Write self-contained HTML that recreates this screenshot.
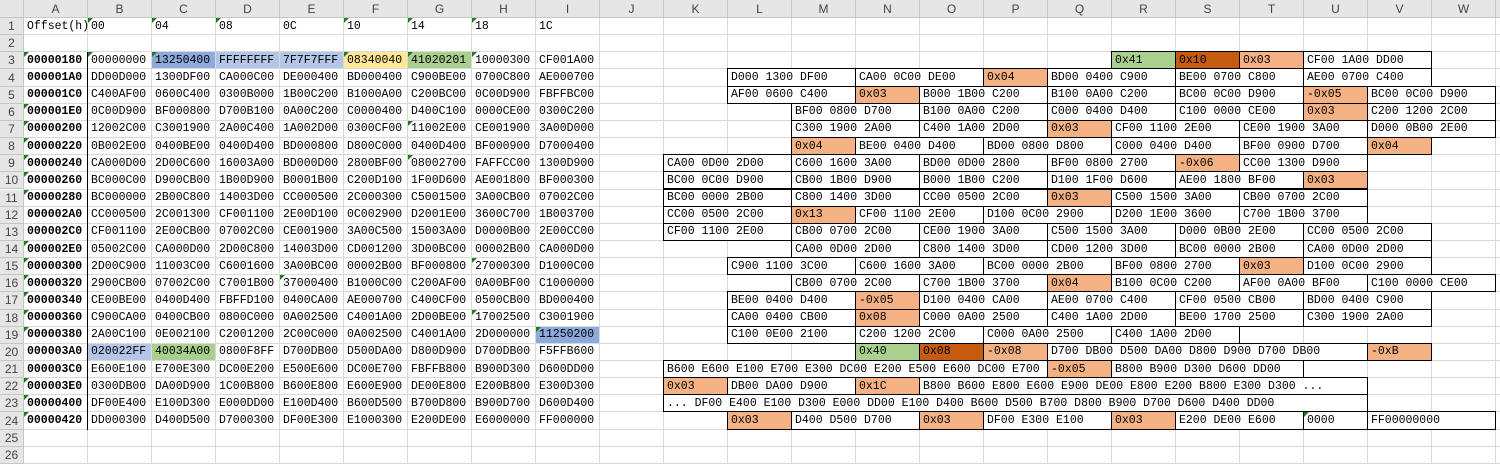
<!DOCTYPE html>
<html><head><meta charset="utf-8">
<style>
html,body{margin:0;padding:0;background:#fff;width:1500px;height:464px;overflow:hidden;position:relative}
.c{position:absolute;box-sizing:border-box;font-family:"Liberation Mono",monospace;font-size:11.5px;color:#000;white-space:nowrap;padding-left:3px;display:flex;align-items:center;overflow:visible}
.h{position:absolute;box-sizing:border-box;background:#e6e6e6;font-family:"Liberation Sans",sans-serif;font-size:12px;color:#444;display:flex;align-items:center;justify-content:center;border-right:1px solid #c6c6c6;border-bottom:1px solid #c6c6c6}
.gv{position:absolute;top:18px;width:1px;height:446px;background:#d9d9d9}
.gh{position:absolute;left:24px;height:1px;width:1476px;background:#d9d9d9}
.tri{position:absolute;width:0;height:0;border-top:5px solid #1e7a1e;border-right:5px solid transparent}
.box{position:absolute;box-sizing:border-box;border:1px solid #000;font-family:"Liberation Mono",monospace;font-size:11.5px;white-space:nowrap;padding-left:3px;display:flex;align-items:center;overflow:hidden;background:#fff}
</style></head>
<body>
<div id="sheet"></div>
<script>
const COLS="ABCDEFGHIJKLMNOPQRSTUVW".split("");
const CW=64, X0=24, HH=18, RH=17.15;
const offsets=["00000180","000001A0","000001C0","000001E0","00000200","00000220","00000240","00000260","00000280","000002A0","000002C0","000002E0","00000300","00000320","00000340","00000360","00000380","000003A0","000003C0","000003E0","00000400","00000420"];
const hexRows=[
["00000000","13250400","FFFFFFFF","7F7F7FFF","08340040","41020201","10000300","CF001A00"],
["DD00D000","1300DF00","CA000C00","DE000400","BD000400","C900BE00","0700C800","AE000700"],
["C400AF00","0600C400","0300B000","1B00C200","B1000A00","C200BC00","0C00D900","FBFFBC00"],
["0C00D900","BF000800","D700B100","0A00C200","C0000400","D400C100","0000CE00","0300C200"],
["12002C00","C3001900","2A00C400","1A002D00","0300CF00","11002E00","CE001900","3A00D000"],
["0B002E00","0400BE00","0400D400","BD000800","D800C000","0400D400","BF000900","D7000400"],
["CA000D00","2D00C600","16003A00","BD000D00","2800BF00","08002700","FAFFCC00","1300D900"],
["BC000C00","D900CB00","1B00D900","B0001B00","C200D100","1F00D600","AE001800","BF000300"],
["BC000000","2B00C800","14003D00","CC000500","2C000300","C5001500","3A00CB00","07002C00"],
["CC000500","2C001300","CF001100","2E00D100","0C002900","D2001E00","3600C700","1B003700"],
["CF001100","2E00CB00","07002C00","CE001900","3A00C500","15003A00","D0000B00","2E00CC00"],
["05002C00","CA000D00","2D00C800","14003D00","CD001200","3D00BC00","00002B00","CA000D00"],
["2D00C900","11003C00","C6001600","3A00BC00","00002B00","BF000800","27000300","D1000C00"],
["2900CB00","07002C00","C7001B00","37000400","B1000C00","C200AF00","0A00BF00","C1000000"],
["CE00BE00","0400D400","FBFFD100","0400CA00","AE000700","C400CF00","0500CB00","BD000400"],
["C900CA00","0400CB00","0800C000","0A002500","C4001A00","2D00BE00","17002500","C3001900"],
["2A00C100","0E002100","C2001200","2C00C000","0A002500","C4001A00","2D000000","11250200"],
["020022FF","40034A00","0800F8FF","D700DB00","D500DA00","D800D900","D700DB00","F5FFB600"],
["E600E100","E700E300","DC00E200","E500E600","DC00E700","FBFFB800","B900D300","D600DD00"],
["0300DB00","DA00D900","1C00B800","B600E800","E600E900","DE00E800","E200B800","E300D300"],
["DF00E400","E100D300","E000DD00","E100D400","B600D500","B700D800","B900D700","D600D400"],
["DD000300","D400D500","D7000300","DF00E300","E1000300","E200DE00","E6000000","FF000000"]];
const headLabels=["Offset(h)","00","04","08","0C","10","14","18","1C"];
const leftFills={"C3":"#8ea9db","D3":"#b4c6e7","E3":"#b4c6e7","F3":"#ffe699","G3":"#a9d08e","I19":"#8ea9db","B20":"#b4c6e7","C20":"#a9d08e"};
const tris=["B1","C1","D1","F1","G1","H1","A3","B3","C3","F3","G3","H3","A6","A7","G7","A8","A9","G9","A10","A11","A14","A15","H15","A16","E16","A17","A18","H18","A19","I19","A22","A23","A24","U24"];
const FILL={g:"#a9d08e",d:"#c55a11",o:"#f4b183",w:"#fff"};
const boxes={
3:[["R",1,"0x41","g"],["S",1,"0x10","d"],["T",1,"0x03","o"],["U",2,"CF00 1A00 DD00","w"]],
4:[["L",2,"D000 1300 DF00","w"],["N",2,"CA00 0C00 DE00","w"],["P",1,"0x04","o"],["Q",2,"BD00 0400 C900","w"],["S",2,"BE00 0700 C800","w"],["U",2,"AE00 0700 C400","w"]],
5:[["L",2,"AF00 0600 C400","w"],["N",1,"0x03","o"],["O",2,"B000 1B00 C200","w"],["Q",2,"B100 0A00 C200","w"],["S",2,"BC00 0C00 D900","w"],["U",1,"-0x05","o"],["V",2,"BC00 0C00 D900","w"]],
6:[["M",2,"BF00 0800 D700","w"],["O",2,"B100 0A00 C200","w"],["Q",2,"C000 0400 D400","w"],["S",2,"C100 0000 CE00","w"],["U",1,"0x03","o"],["V",2,"C200 1200 2C00","w"]],
7:[["M",2,"C300 1900 2A00","w"],["O",2,"C400 1A00 2D00","w"],["Q",1,"0x03","o"],["R",2,"CF00 1100 2E00","w"],["T",2,"CE00 1900 3A00","w"],["V",2,"D000 0B00 2E00","w"]],
8:[["M",1,"0x04","o"],["N",2,"BE00 0400 D400","w"],["P",2,"BD00 0800 D800","w"],["R",2,"C000 0400 D400","w"],["T",2,"BF00 0900 D700","w"],["V",1,"0x04","o"]],
9:[["K",2,"CA00 0D00 2D00","w"],["M",2,"C600 1600 3A00","w"],["O",2,"BD00 0D00 2800","w"],["Q",2,"BF00 0800 2700","w"],["S",1,"-0x06","o"],["T",2,"CC00 1300 D900","w"]],
10:[["K",2,"BC00 0C00 D900","w"],["M",2,"CB00 1B00 D900","w"],["O",2,"B000 1B00 C200","w"],["Q",2,"D100 1F00 D600","w"],["S",2,"AE00 1800 BF00","w"],["U",1,"0x03","o"]],
11:[["K",2,"BC00 0000 2B00","w"],["M",2,"C800 1400 3D00","w"],["O",2,"CC00 0500 2C00","w"],["Q",1,"0x03","o"],["R",2,"C500 1500 3A00","w"],["T",2,"CB00 0700 2C00","w"]],
12:[["K",2,"CC00 0500 2C00","w"],["M",1,"0x13","o"],["N",2,"CF00 1100 2E00","w"],["P",2,"D100 0C00 2900","w"],["R",2,"D200 1E00 3600","w"],["T",2,"C700 1B00 3700","w"]],
13:[["K",2,"CF00 1100 2E00","w"],["M",2,"CB00 0700 2C00","w"],["O",2,"CE00 1900 3A00","w"],["Q",2,"C500 1500 3A00","w"],["S",2,"D000 0B00 2E00","w"],["U",2,"CC00 0500 2C00","w"]],
14:[["M",2,"CA00 0D00 2D00","w"],["O",2,"C800 1400 3D00","w"],["Q",2,"CD00 1200 3D00","w"],["S",2,"BC00 0000 2B00","w"],["U",2,"CA00 0D00 2D00","w"]],
15:[["L",2,"C900 1100 3C00","w"],["N",2,"C600 1600 3A00","w"],["P",2,"BC00 0000 2B00","w"],["R",2,"BF00 0800 2700","w"],["T",1,"0x03","o"],["U",2,"D100 0C00 2900","w"]],
16:[["M",2,"CB00 0700 2C00","w"],["O",2,"C700 1B00 3700","w"],["Q",1,"0x04","o"],["R",2,"B100 0C00 C200","w"],["T",2,"AF00 0A00 BF00","w"],["V",2,"C100 0000 CE00","w"]],
17:[["L",2,"BE00 0400 D400","w"],["N",1,"-0x05","o"],["O",2,"D100 0400 CA00","w"],["Q",2,"AE00 0700 C400","w"],["S",2,"CF00 0500 CB00","w"],["U",2,"BD00 0400 C900","w"]],
18:[["L",2,"CA00 0400 CB00","w"],["N",1,"0x08","o"],["O",2,"C000 0A00 2500","w"],["Q",2,"C400 1A00 2D00","w"],["S",2,"BE00 1700 2500","w"],["U",2,"C300 1900 2A00","w"]],
19:[["L",2,"C100 0E00 2100","w"],["N",2,"C200 1200 2C00","w"],["P",2,"C000 0A00 2500","w"],["R",2,"C400 1A00 2D00","w"]],
20:[["N",1,"0x40","g"],["O",1,"0x08","d"],["P",1,"-0x08","o"],["Q",5,"D700 DB00 D500 DA00 D800 D900 D700 DB00","w"],["V",1,"-0xB","o"]],
21:[["K",6,"B600 E600 E100 E700 E300 DC00 E200 E500 E600 DC00 E700","w"],["Q",1,"-0x05","o"],["R",3,"B800 B900 D300 D600 DD00","w"]],
22:[["K",1,"0x03","o"],["L",2,"DB00 DA00 D900","w"],["N",1,"0x1C","o"],["O",7,"B800 B600 E800 E600 E900 DE00 E800 E200 B800 E300 D300 ...","w"]],
23:[["K",11,"... DF00 E400 E100 D300 E000 DD00 E100 D400 B600 D500 B700 D800 B900 D700 D600 D400 DD00","w"]],
24:[["L",1,"0x03","o"],["M",2,"D400 D500 D700","w"],["O",1,"0x03","o"],["P",2,"DF00 E300 E100","w"],["R",1,"0x03","o"],["S",2,"E200 DE00 E600","w"],["U",1,"0000","w"],["V",2,"FF00000000","w"]]
};
const sheet=document.getElementById('sheet');
function cx(ci){return X0+ci*CW;}
function ry(r){return HH+(r-1)*RH;}
// gridlines
for(let i=0;i<=23;i++){const g=document.createElement('div');g.className='gv';g.style.left=(cx(i)-1)+'px';


sheet.appendChild(g);}
for(let r=1;r<=27;r++){const g=document.createElement('div');g.className='gh';g.style.top=(ry(r)-1)+'px';


sheet.appendChild(g);}
// column A right border
{const b=document.createElement('div');b.style.cssText='position:absolute;left:'+(cx(1)-1)+'px;top:'+ry(3)+'px;width:1px;height:'+(RH*22)+'px;background:#000';


sheet.appendChild(b);}
function cell(col,row,text,bold,bg){
const ci=COLS.indexOf(col);const d=document.createElement('div');d.className='c';
d.style.left=cx(ci)+'px';d.style.top=ry(row)+'px';d.style.width=(CW-1)+'px';d.style.height=(RH-1)+'px';
if(bold)d.style.fontWeight='bold';if(bg)d.style.background=bg;d.textContent=text;


sheet.appendChild(d);}
headLabels.forEach((t,i)=>cell(COLS[i],1,t,false,null));
for(let k=0;k<22;k++){const r=k+3;cell('A',r,offsets[k],true,null);
hexRows[k].forEach((v,j)=>{const col=COLS[j+1];cell(col,r,v,false,leftFills[col+r]||null);});}
// boxes
Object.keys(boxes).forEach(r=>{boxes[r].forEach(b=>{const ci=COLS.indexOf(b[0]);const d=document.createElement('div');d.className='box';
d.style.left=(cx(ci)-1)+'px';d.style.top=(ry(+r)-1)+'px';d.style.width=(b[1]*CW+1)+'px';d.style.height=(RH+1)+'px';d.style.background=FILL[b[3]];d.textContent=b[2];


sheet.appendChild(d);});});
// triangles
tris.forEach(t=>{const col=t[0],r=+t.slice(1);const d=document.createElement('div');d.className='tri';d.style.left=cx(COLS.indexOf(col))+'px';d.style.top=ry(r)+'px';


sheet.appendChild(d);});
// headers
{const d=document.createElement('div');d.className='h';d.style.cssText='left:0;top:0;width:24px;height:18px';


sheet.appendChild(d);}
COLS.forEach((c,i)=>{const d=document.createElement('div');d.className='h';d.style.left=cx(i)+'px';d.style.top='0';d.style.width=CW+'px';d.style.height='18px';d.textContent=c;


sheet.appendChild(d);});
{const d=document.createElement('div');d.className='h';d.style.cssText='left:'+cx(23)+'px;top:0;width:10px;height:18px';


sheet.appendChild(d);}
for(let r=1;r<=27;r++){const d=document.createElement('div');d.className='h';d.style.left='0';d.style.top=ry(r)+'px';d.style.width='24px';d.style.height=RH+'px';d.textContent=r<=26?r:'';


sheet.appendChild(d);}
</script>
</body></html>
